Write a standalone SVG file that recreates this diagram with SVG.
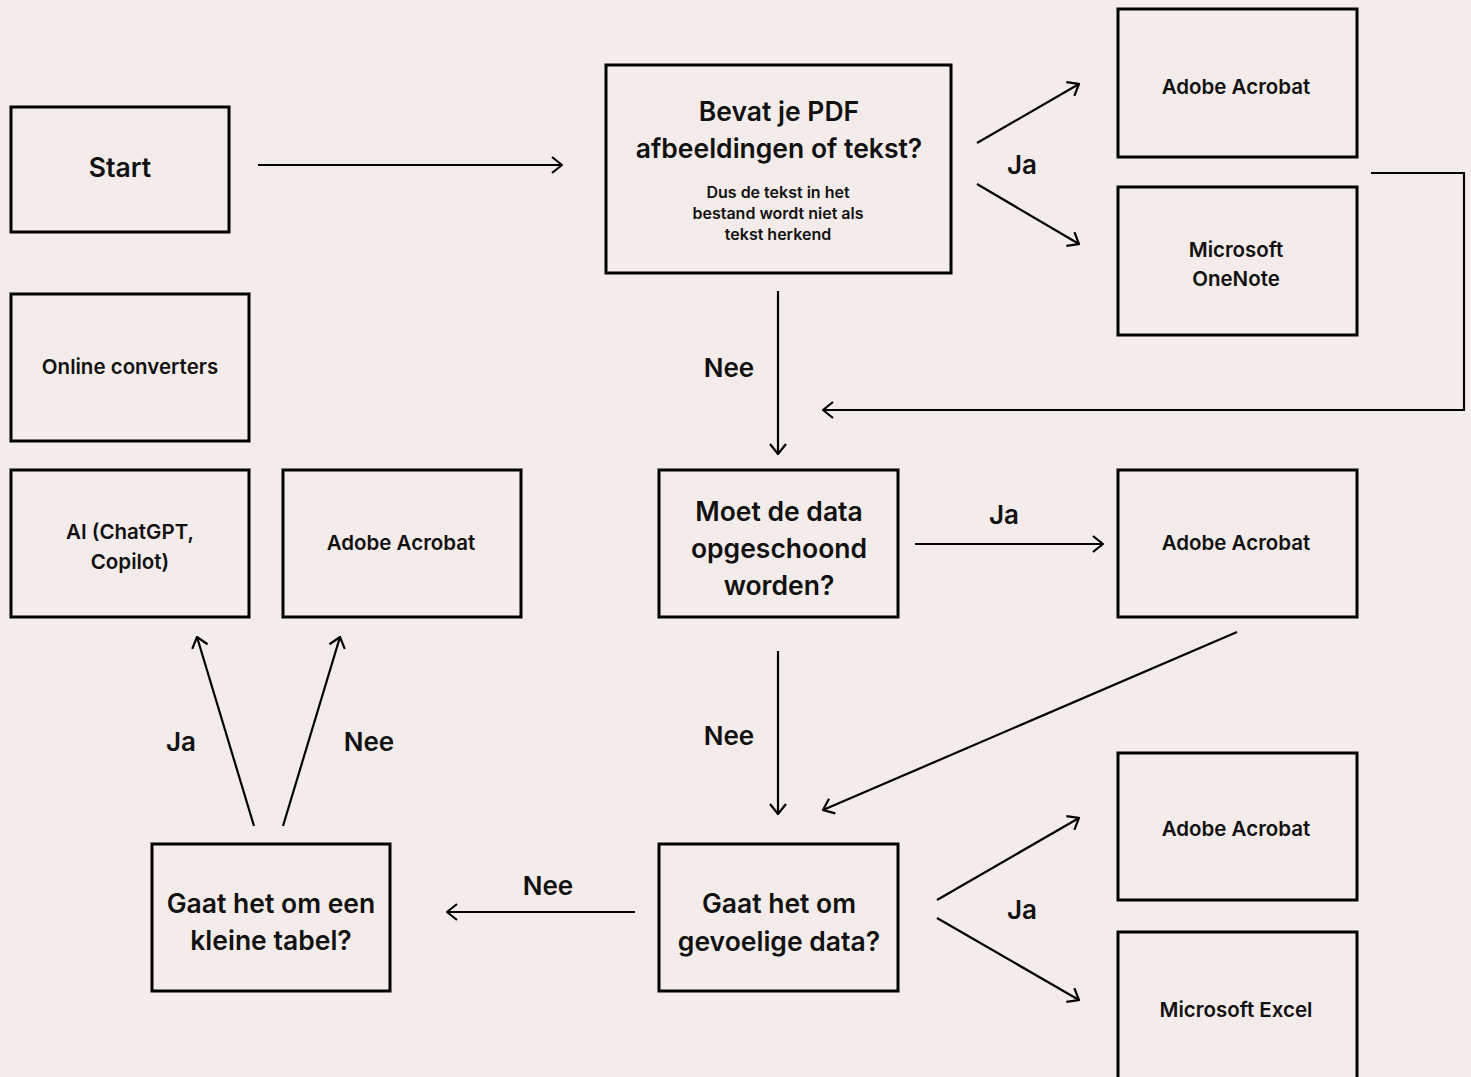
<svg xmlns="http://www.w3.org/2000/svg" width="1471" height="1077" viewBox="0 0 1471 1077">
<style>
.box{fill:none;stroke:#000;stroke-width:3}
.t{font-family:Inter,"Liberation Sans",sans-serif;font-weight:600;fill:#111;text-anchor:middle;dominant-baseline:central}
.big{font-size:26.5px}
.mid{font-size:20.5px}
.sm{font-size:16px}
.lbl{font-size:26px}
.c{fill:none;stroke:#000;stroke-width:2.2}
</style>
<defs>
<marker id="a" markerUnits="userSpaceOnUse" viewBox="0 0 12 18" refX="11" refY="9" markerWidth="12" markerHeight="18" orient="auto">
<path d="M1,1 L11,9 L1,17" fill="none" stroke="#000" stroke-width="2.2"/>
</marker>
</defs>
<rect width="1471" height="1077" fill="#f3ecea"/>
<g id="connectors">
<line class="c" x1="258" y1="165" x2="562" y2="165" marker-end="url(#a)"/>
<line class="c" x1="977" y1="143" x2="1079" y2="84" marker-end="url(#a)"/>
<line class="c" x1="977" y1="184" x2="1079" y2="244" marker-end="url(#a)"/>
<polyline class="c" points="1371,173 1464,173 1464,410 823,410" marker-end="url(#a)"/>
<line class="c" x1="778" y1="291" x2="778" y2="454" marker-end="url(#a)"/>
<line class="c" x1="915" y1="544" x2="1103" y2="544" marker-end="url(#a)"/>
<line class="c" x1="1237" y1="632" x2="823" y2="810" marker-end="url(#a)"/>
<line class="c" x1="778" y1="651" x2="778" y2="814" marker-end="url(#a)"/>
<line class="c" x1="937" y1="900" x2="1079" y2="818" marker-end="url(#a)"/>
<line class="c" x1="937" y1="918" x2="1079" y2="1000" marker-end="url(#a)"/>
<line class="c" x1="635" y1="912" x2="447" y2="912" marker-end="url(#a)"/>
<line class="c" x1="254" y1="826" x2="197" y2="637" marker-end="url(#a)"/>
<line class="c" x1="283" y1="826" x2="340" y2="637" marker-end="url(#a)"/>
<text class="t lbl" x="1022" y="164">Ja</text>
<text class="t lbl" x="729" y="367">Nee</text>
<text class="t lbl" x="1004" y="514">Ja</text>
<text class="t lbl" x="729" y="735">Nee</text>
<text class="t lbl" x="1022" y="909">Ja</text>
<text class="t lbl" x="548" y="885">Nee</text>
<text class="t lbl" x="181" y="741">Ja</text>
<text class="t lbl" x="369" y="741">Nee</text>
</g>
<g id="start"><rect class="box" x="11" y="107" width="218" height="125"/><text class="t big" x="120" y="167">Start</text></g>
<g id="bevat"><rect class="box" x="606" y="65" width="345" height="208"/>
<text class="t big" x="779" y="111">Bevat je PDF</text>
<text class="t big" x="779" y="148">afbeeldingen of tekst?</text>
<text class="t sm" x="778" y="192">Dus de tekst in het</text>
<text class="t sm" x="778" y="213">bestand wordt niet als</text>
<text class="t sm" x="778" y="234">tekst herkend</text></g>
<g id="acrobat1"><rect class="box" x="1118" y="9" width="239" height="148"/><text class="t mid" x="1236" y="86">Adobe Acrobat</text></g>
<g id="onenote"><rect class="box" x="1118" y="187" width="239" height="148"/><text class="t mid" x="1236" y="249">Microsoft</text><text class="t mid" x="1236" y="278">OneNote</text></g>
<g id="online"><rect class="box" x="11" y="294" width="238" height="147"/><text class="t mid" x="130" y="366">Online converters</text></g>
<g id="ai"><rect class="box" x="11" y="470" width="238" height="147"/><text class="t mid" x="130" y="531">AI (ChatGPT,</text><text class="t mid" x="130" y="561">Copilot)</text></g>
<g id="acrobat-left"><rect class="box" x="283" y="470" width="238" height="147"/><text class="t mid" x="401" y="542">Adobe Acrobat</text></g>
<g id="moet"><rect class="box" x="659" y="470" width="239" height="147"/>
<text class="t big" x="779" y="511">Moet de data</text>
<text class="t big" x="779" y="548">opgeschoond</text>
<text class="t big" x="779" y="585">worden?</text></g>
<g id="acrobat2"><rect class="box" x="1118" y="470" width="239" height="147"/><text class="t mid" x="1236" y="542">Adobe Acrobat</text></g>
<g id="gevoelig"><rect class="box" x="659" y="844" width="239" height="147"/>
<text class="t big" x="779" y="903">Gaat het om</text>
<text class="t big" x="779" y="941">gevoelige data?</text></g>
<g id="tabel"><rect class="box" x="152" y="844" width="238" height="147"/>
<text class="t big" x="271" y="903">Gaat het om een</text>
<text class="t big" x="271" y="940">kleine tabel?</text></g>
<g id="acrobat3"><rect class="box" x="1118" y="753" width="239" height="147"/><text class="t mid" x="1236" y="828">Adobe Acrobat</text></g>
<g id="excel"><rect class="box" x="1118" y="932" width="239" height="160"/><text class="t mid" x="1236" y="1009">Microsoft Excel</text></g>
</svg>
